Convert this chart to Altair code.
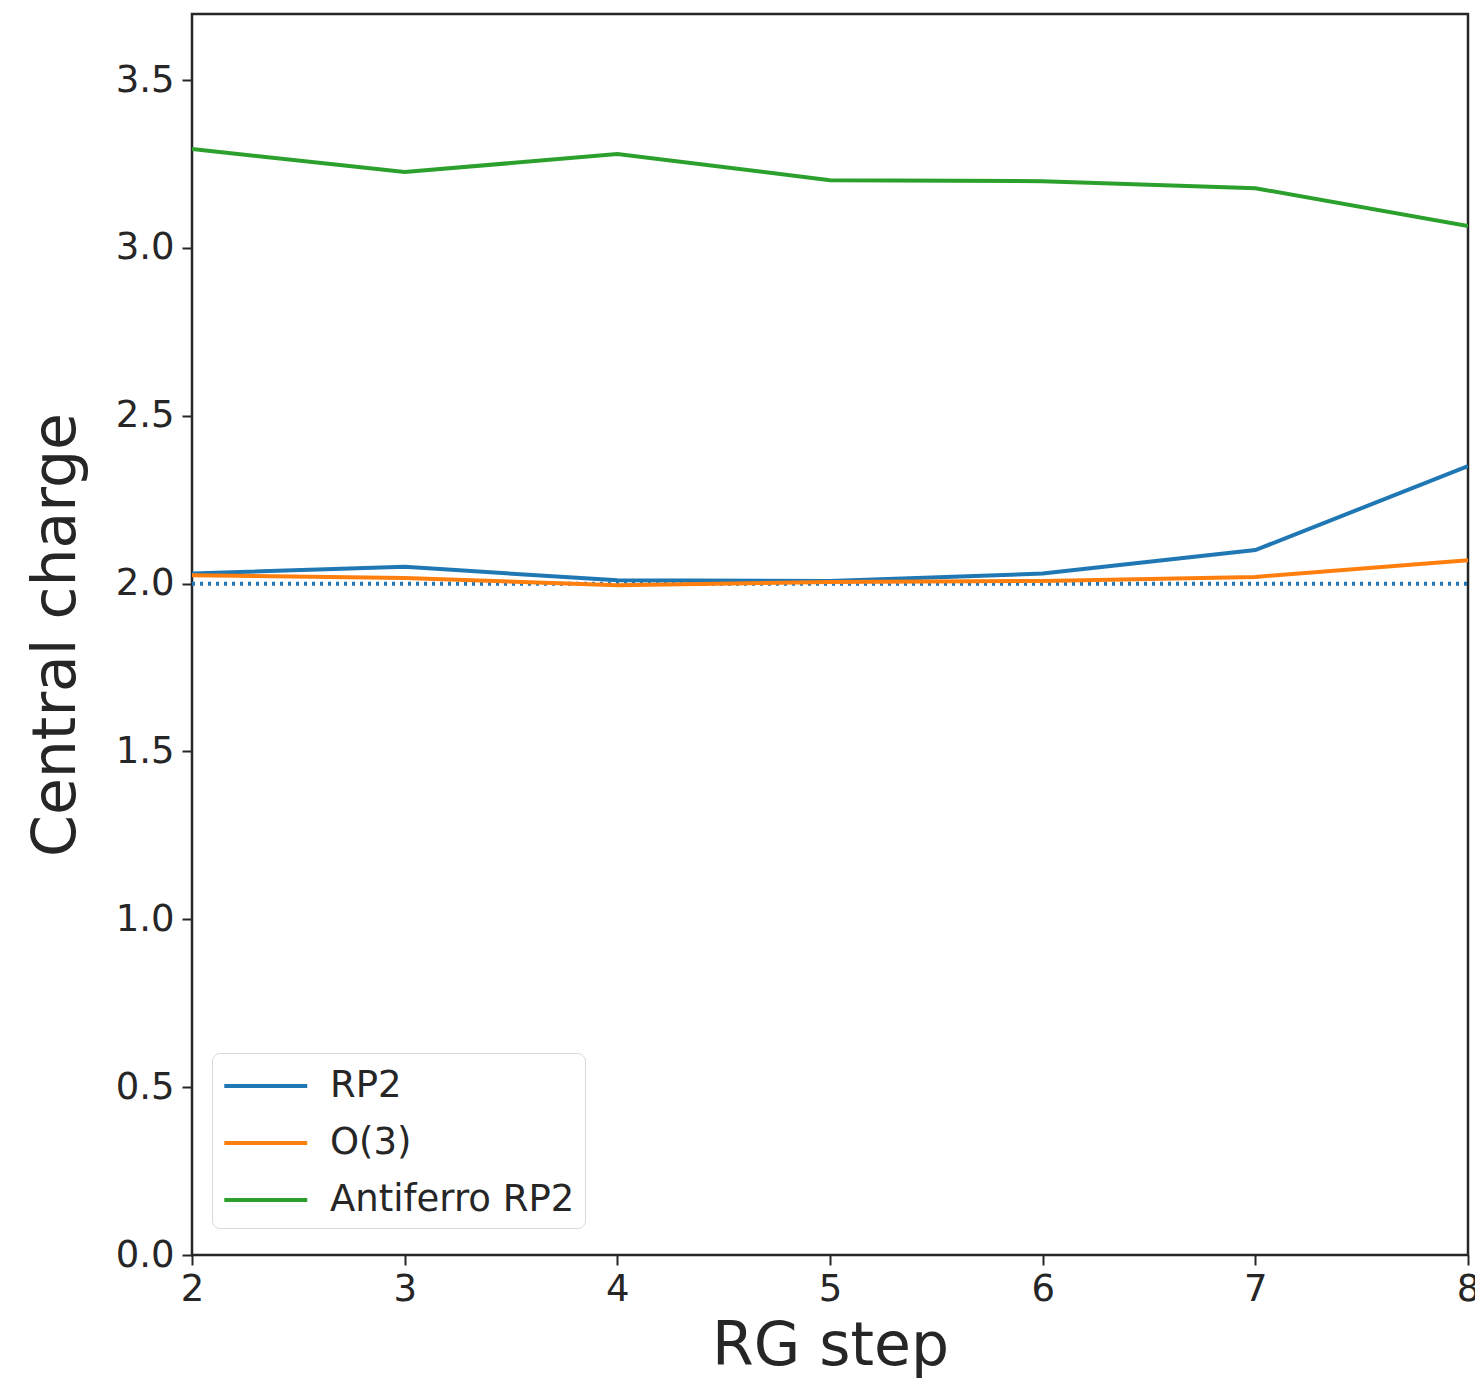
import altair as alt
import pandas as pd

steps = [2, 3, 4, 5, 6, 7, 8]
rp2 = [2.03, 2.05, 2.01, 2.008, 2.03, 2.10, 2.35]
o3 = [2.025, 2.017, 1.995, 2.005, 2.008, 2.02, 2.07]
antiferro = [3.295, 3.226, 3.28, 3.202, 3.199, 3.178, 3.065]
series_names = ["RP2", "O(3)", "Antiferro RP2"]
series_colors = ["#1f77b4", "#ff7f0e", "#2ca02c"]
reference_value = 2.0
y_ticks = [0.0, 0.5, 1.0, 1.5, 2.0, 2.5, 3.0, 3.5]

rows = []
for name, vals in zip(series_names, [rp2, o3, antiferro]):
    for s, v in zip(steps, vals):
        rows.append({"step": s, "value": v, "series": name})
df = pd.DataFrame(rows)
ref_df = pd.DataFrame({"step": [steps[0], steps[-1]], "value": [reference_value, reference_value]})

x_scale = alt.Scale(domain=[2, 8], nice=False, zero=False)
y_scale = alt.Scale(domain=[0, 3.697], nice=False)

x_axis = alt.Axis(title="RG step", values=steps, format="d", labelFontSize=37, titleFontSize=60,
                  titleFontWeight="normal", labelColor="#262626", titleColor="#262626", tickSize=10,
                  tickColor="#262626", tickWidth=2, domain=False, grid=False, labelPadding=6,
                  titlePadding=10, labelFlush=False, labelFont="DejaVu Sans", titleFont="DejaVu Sans")
y_axis = alt.Axis(title="Central charge", values=y_ticks, format=".1f", labelFontSize=37,
                  titleFontSize=60, titleFontWeight="normal", labelColor="#262626", titleColor="#262626",
                  tickSize=10, tickColor="#262626", tickWidth=2, domain=False, grid=False, labelPadding=8,
                  titlePadding=28, labelFont="DejaVu Sans", titleFont="DejaVu Sans")

ref = alt.Chart(ref_df).mark_line(color="#1f77b4", strokeWidth=4, strokeDash=[3, 5], clip=True).encode(
    x=alt.X("step:Q", scale=x_scale, axis=x_axis),
    y=alt.Y("value:Q", scale=y_scale, axis=y_axis),
)

lines = alt.Chart(df).mark_line(strokeWidth=4, clip=True).encode(
    x=alt.X("step:Q", scale=x_scale),
    y=alt.Y("value:Q", scale=y_scale),
    color=alt.Color("series:N", sort=series_names,
                    scale=alt.Scale(domain=series_names, range=series_colors),
                    legend=alt.Legend(title=None, orient="none", legendX=20, legendY=1039,
                                      symbolType="M-1,0H3", symbolStrokeWidth=4, symbolSize=1722,
                                      symbolFillColor="transparent",
                                      labelFontSize=37, labelFont="DejaVu Sans", labelColor="#262626",
                                      labelLimit=0, rowPadding=16, padding=10,
                                      strokeColor="#d8d8d8", cornerRadius=8, fillColor="white",
                                      labelOffset=62)),
    detail="series:N",
)

chart = alt.layer(ref, lines).properties(
    width=1276, height=1241,
    autosize=alt.AutoSizeParams(type="none"),
    padding={"left": 192, "top": 14, "right": 7, "bottom": 133},
).configure(background="white").configure_view(stroke="#262626", strokeWidth=2.5)

chart.save("out.html", embed_options={"renderer": "svg", "actions": False})
